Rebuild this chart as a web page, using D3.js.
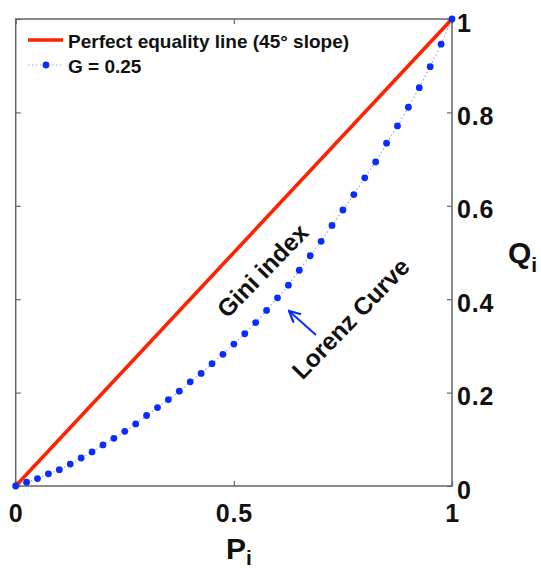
<!DOCTYPE html>
<html>
<head>
<meta charset="utf-8">
<script src="https://cdn.jsdelivr.net/npm/d3@7"></script>
<style>
  body { margin: 0; background: #fff; }
  text { font-family: "Liberation Sans", Arial, sans-serif; font-weight: bold; fill: #111; }
</style>
</head>
<body>
<svg id="chart" width="541" height="572"></svg>
<script>
// population share (P) and income share (Q)
const pShare = [0, 0.025, 0.05, 0.075, 0.1, 0.125, 0.15, 0.175, 0.2, 0.225, 0.25, 0.275, 0.3, 0.325, 0.35, 0.375, 0.4, 0.425, 0.45, 0.475, 0.5,
  0.525, 0.55, 0.575, 0.6, 0.625, 0.65, 0.675, 0.7, 0.725, 0.75, 0.775, 0.8, 0.825, 0.85, 0.875, 0.9, 0.925, 0.95, 0.975, 1];
const qShare = [0, 0.008, 0.016, 0.026, 0.035, 0.047, 0.06, 0.073, 0.088, 0.102, 0.117, 0.133, 0.151, 0.168, 0.185, 0.203, 0.223, 0.241, 0.262, 0.282, 0.304,
  0.326, 0.35, 0.376, 0.403, 0.43, 0.462, 0.493, 0.524, 0.558, 0.591, 0.624, 0.66, 0.694, 0.734, 0.771, 0.811, 0.853, 0.898, 0.946, 1];
const equalityP = [0, 1];
const equalityQ = [0, 1];
const xTicks = [0, 0.5, 1];
const xTickLabels = ["0", "0.5", "1"];
const yTicks = [0, 0.2, 0.4, 0.6, 0.8, 1];
const yTickLabels = ["0", "0.2", "0.4", "0.6", "0.8", "1"];
const legendLabels = ["Perfect equality line (45\u00b0 slope)", "G = 0.25"];

const red = "#ff2200";
const blue = "#0a2cff";
const frame = { left: 15.7, right: 452, top: 19, bottom: 486 };

const svg = d3.select("#chart");

const x = d3.scaleLinear().domain([0, 1]).range([frame.left, frame.right]);
const y = d3.scaleLinear().domain([0, 1]).range([frame.bottom, frame.top]);

// ticks (inward, matlab style)
const tickAxis = (axis, transform) => {
  const g = svg.append("g").attr("transform", transform).call(axis);
  g.select(".domain").remove();
  g.selectAll(".tick line").attr("stroke", "#666").attr("stroke-width", 1.2);
  return g;
};

const styleLabels = (sel) =>
  sel.attr("font-size", 25).attr("fill", "#111").attr("letter-spacing", 0.8)
    .attr("font-family", "Liberation Sans, Arial, sans-serif").attr("font-weight", "bold");

const bottom = tickAxis(
  d3.axisBottom(x).tickValues(xTicks).tickSize(-5).tickPadding(0)
    .tickFormat((d, i) => xTickLabels[i]),
  `translate(0,${frame.bottom})`
);
bottom.selectAll(".tick text").attr("y", 36).attr("dy", null).call(styleLabels);

tickAxis(d3.axisTop(x).tickValues(xTicks).tickSize(-5).tickFormat(""), `translate(0,${frame.top})`);
tickAxis(d3.axisLeft(y).tickValues(yTicks).tickSize(-5).tickFormat(""), `translate(${frame.left},0)`);

const right = tickAxis(
  d3.axisRight(y).tickValues(yTicks).tickSize(-5).tickPadding(0)
    .tickFormat((d, i) => yTickLabels[i]),
  `translate(${frame.right},0)`
);
right.selectAll(".tick text").attr("x", 5).attr("dy", 12).call(styleLabels);

// box
svg.append("rect")
  .attr("x", frame.left).attr("y", frame.top)
  .attr("width", frame.right - frame.left).attr("height", frame.bottom - frame.top)
  .attr("fill", "none").attr("stroke", "#666").attr("stroke-width", 1.5);

// lorenz curve: faint dotted connector + dots
const lorenz = pShare.map((p, i) => ({ p, q: qShare[i] }));
const line = d3.line().x((d) => x(d.p)).y((d) => y(d.q));

svg.append("path")
  .datum(lorenz)
  .attr("d", line)
  .attr("fill", "none")
  .attr("stroke", "#9aa8f0")
  .attr("stroke-width", 1.2)
  .attr("stroke-dasharray", "1.5,2.5");

// perfect equality line
svg.append("path")
  .datum(equalityP.map((p, i) => ({ p, q: equalityQ[i] })))
  .attr("d", line)
  .attr("fill", "none")
  .attr("stroke", red)
  .attr("stroke-width", 3.6);

svg.append("g")
  .selectAll("circle")
  .data(lorenz)
  .enter()
  .append("circle")
  .attr("cx", (d) => x(d.p))
  .attr("cy", (d) => y(d.q))
  .attr("r", 3.4)
  .attr("fill", blue);

// legend
const legend = svg.append("g");
legend.append("line")
  .attr("x1", 28).attr("x2", 63).attr("y1", 40).attr("y2", 40)
  .attr("stroke", red).attr("stroke-width", 3.6);
legend.append("line")
  .attr("x1", 28).attr("x2", 63).attr("y1", 65).attr("y2", 65)
  .attr("stroke", "#9aa8f0").attr("stroke-width", 1.2).attr("stroke-dasharray", "1.5,2.5");
legend.append("circle").attr("cx", 46).attr("cy", 65).attr("r", 3.4).attr("fill", blue);
legend.selectAll("text")
  .data(legendLabels)
  .enter()
  .append("text")
  .attr("x", 68)
  .attr("y", (d, i) => 48 + i * 25)
  .attr("font-size", 19)
  .text((d) => d);

// annotations
svg.append("text")
  .attr("transform", "translate(263,271) rotate(-46)")
  .attr("text-anchor", "middle")
  .attr("dy", 8)
  .attr("font-size", 24.5)
  .text("Gini index");

svg.append("text")
  .attr("transform", "translate(351,319) rotate(-46)")
  .attr("text-anchor", "middle")
  .attr("dy", 8)
  .attr("font-size", 24.5)
  .text("Lorenz Curve");

svg.append("defs").append("marker")
  .attr("id", "head")
  .attr("viewBox", "0 0 10 10")
  .attr("refX", 9).attr("refY", 5)
  .attr("markerWidth", 7).attr("markerHeight", 7)
  .attr("orient", "auto")
  .append("path")
  .attr("d", "M1,1 L9,5 L1,9")
  .attr("fill", "none").attr("stroke", blue).attr("stroke-width", 1.6);

svg.append("line")
  .attr("x1", 316).attr("y1", 335).attr("x2", 289).attr("y2", 311)
  .attr("stroke", blue).attr("stroke-width", 2)
  .attr("marker-end", "url(#head)");

// axis titles
const pLabel = svg.append("text").attr("x", 226).attr("y", 559).attr("font-size", 30);
pLabel.append("tspan").text("P");
pLabel.append("tspan").attr("font-size", 21).attr("dy", 6).text("i");

const qLabel = svg.append("text").attr("x", 508).attr("y", 263).attr("font-size", 30);
qLabel.append("tspan").text("Q");
qLabel.append("tspan").attr("font-size", 21).attr("dy", 9).text("i");
</script>
</body>
</html>
